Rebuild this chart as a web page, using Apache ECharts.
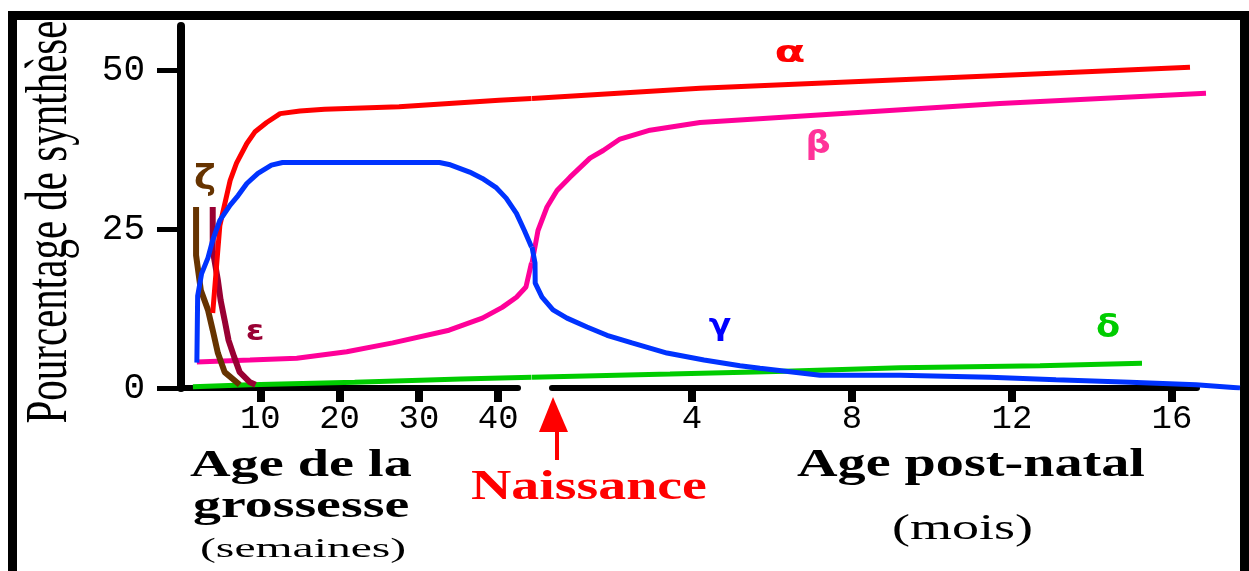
<!DOCTYPE html>
<html>
<head>
<meta charset="utf-8">
<script src="https://cdn.jsdelivr.net/npm/echarts@6/dist/echarts.min.js"></script>
<style>
html, body { margin: 0; padding: 0; background: #fff; }
#chart { width: 1249px; height: 571px; }
</style>
</head>
<body>
<div id="chart"></div>
<script>
// tick labels
const weekTicks = [10, 20, 30, 40];
const monthTicks = [4, 8, 12, 16];
const percentTicks = [0, 25, 50];

// before birth: [semaines, %]   after birth: [mois, %]
const alphaPrenatal = [[4.0, 11.8], [4.9, 25.6], [6.2, 32.7], [7.0, 35.4], [8.3, 38.5], [9.3, 40.3], [10.8, 41.8], [12.5, 43.2], [15, 43.6], [18.1, 43.9], [27.5, 44.3], [40.1, 45.3], [44.2, 45.6]];
const alphaPostnatal = [[0, 45.6], [4.2, 47.2], [11.7, 49.2], [16.45, 50.5]];

const betaPrenatal = [[2.0, 4.1], [8.7, 4.4], [14.6, 4.7], [20.9, 5.7], [26.7, 7.1], [33.8, 9.1], [38, 11.0], [40.5, 12.7], [42.3, 14.3], [43.5, 15.9], [44.2, 19.7]];
const betaPostnatal = [[0, 19.7], [0.15, 24.8], [0.375, 28.5], [0.625, 31.1], [0.95, 33.2], [1.45, 36.2], [1.78, 37.4], [2.2, 39.2], [2.95, 40.6], [4.2, 41.8], [11.7, 44.8], [16.85, 46.4]];

const gammaPrenatal = [[2.0, 4.0], [2.1, 14.5], [2.6, 18.0], [3.4, 20.5], [4.0, 23.3], [4.9, 26.4], [6.2, 28.8], [7.2, 30.3], [8.3, 32.2], [9.7, 33.8], [11.4, 35.1], [12.8, 35.5], [32.6, 35.5], [33.8, 35.2], [36.4, 34.0], [38, 33.0], [39.7, 31.6], [41, 29.9], [42.3, 27.5], [43.3, 24.8], [44.2, 22.2]];
const gammaPostnatal = [[0, 22.2], [0.075, 19.7], [0.08, 16.5], [0.25, 14.3], [0.525, 12.3], [0.875, 11.0], [1.375, 9.6], [1.875, 8.3], [2.5, 7.1], [3.375, 5.5], [4.3, 4.4], [5.2, 3.5], [5.7, 3.1], [7.2, 2.0], [9.2, 2.0], [11.45, 1.7], [13.1, 1.3], [14.95, 0.9], [16.6, 0.5], [17.7, 0.0]];

const deltaPrenatal = [[1.5, 0.2], [8.7, 0.5], [21.9, 0.9], [35.3, 1.4], [44.2, 1.7]];
const deltaPostnatal = [[0, 1.7], [3.45, 2.2], [6.1, 2.6], [9.2, 3.2], [12.7, 3.5], [15.25, 3.9]];

const epsilonPrenatal = [[4.0, 28.5], [4.0, 21.7], [4.65, 17.0], [5.0, 13.8], [5.5, 10.7], [6.0, 7.5], [6.7, 4.9], [7.4, 2.5], [8.7, 0.9], [9.4, 0.5]];
const zetaPrenatal = [[1.9, 28.5], [1.9, 20.9], [2.5, 15.4], [3.4, 12.3], [4.0, 9.1], [4.65, 5.5], [5.5, 2.5], [7.4, 0.5]];

const serif = '"Liberation Serif"';

// xAxis 2 = weeks, xAxis 3 = months, both on the full-width plotting grid
function line(data, color, width, xIdx, z) {
  return {
    type: 'line',
    data: data,
    xAxisIndex: xIdx,
    yAxisIndex: 2,
    symbol: 'none',
    silent: true,
    z: z,
    lineStyle: { color: color, width: width },
    itemStyle: { color: color }
  };
}

function label(text, x, y, font, color, scaleX, align) {
  return {
    type: 'text', x: x, y: y, scaleX: scaleX || 1, silent: true,
    style: {
      text: text, font: font, fill: color,
      align: align || 'center', verticalAlign: 'middle',
      textAlign: align || 'center', textVerticalAlign: 'middle'
    }
  };
}

const chart = echarts.init(document.getElementById('chart'));

const tickFont = { fontFamily: 'Liberation Mono', fontSize: 34, color: '#000', margin: 14 };

const option = {
  animation: false,
  backgroundColor: '#fff',
  grid: [
    { left: 181, top: 26, width: 337, height: 362, outerBoundsMode: 'none' },
    { left: 552, top: 26, width: 645, height: 362, outerBoundsMode: 'none' },
    { left: 181, top: 26, width: 1059, height: 362, outerBoundsMode: 'none' }
  ],
  xAxis: [
    {
      gridIndex: 0, type: 'value', min: 0, max: 42.5,
      axisLine: { onZero: false, lineStyle: { color: '#000', width: 6 } },
      axisTick: { customValues: weekTicks, length: 14, lineStyle: { color: '#000', width: 8 } },
      axisLabel: Object.assign({ customValues: weekTicks }, tickFont),
      splitLine: { show: false }
    },
    {
      gridIndex: 1, type: 'value', min: 0.5, max: 16.625,
      axisLine: { onZero: false, lineStyle: { color: '#000', width: 6 } },
      axisTick: { customValues: monthTicks, length: 14, lineStyle: { color: '#000', width: 8 } },
      axisLabel: Object.assign({ customValues: monthTicks }, tickFont),
      splitLine: { show: false }
    },
    { gridIndex: 2, type: 'value', min: 0, max: 1059 / 7.93, show: false },
    { gridIndex: 2, type: 'value', min: (181 - 532) / 40, max: (1240 - 532) / 40, show: false }
  ],
  yAxis: [
    {
      gridIndex: 0, type: 'value', min: 0, max: 57,
      axisLine: { show: true, onZero: false, lineStyle: { color: '#000', width: 8 } },
      axisTick: { show: true, customValues: percentTicks, length: 24, lineStyle: { color: '#000', width: 5 } },
      axisLabel: { customValues: percentTicks, fontFamily: 'Liberation Mono', fontSize: 36, color: '#000', margin: 36 },
      splitLine: { show: false }
    },
    { gridIndex: 1, type: 'value', min: 0, max: 57, show: false },
    { gridIndex: 2, type: 'value', min: 0, max: 57, show: false }
  ],
  series: [
    line(deltaPrenatal, '#00cc00', 5, 2, 2),
    line(deltaPostnatal, '#00cc00', 5, 3, 2),
    line(betaPrenatal, '#ff0099', 5, 2, 3),
    line(betaPostnatal, '#ff0099', 5, 3, 3),
    line(epsilonPrenatal, '#990033', 6, 2, 4),
    line(zetaPrenatal, '#663300', 6, 2, 4),
    line(alphaPrenatal, '#ff0000', 5, 2, 5),
    line(alphaPostnatal, '#ff0000', 5, 3, 5),
    line(gammaPrenatal, '#0033ff', 5, 2, 6),
    line(gammaPostnatal, '#0033ff', 5, 3, 6)
  ],
  graphic: [
    // frame
    { type: 'rect', silent: true, shape: { x: 12.5, y: 15.5, width: 1232, height: 620 },
      style: { fill: 'none', stroke: '#000', lineWidth: 9 } },
    // y axis title
    { type: 'text', x: 50, y: 222, rotation: Math.PI / 2, scaleY: 1.45, silent: true,
      style: { text: 'Pourcentage de synthèse', font: '41px ' + serif, fill: '#000',
        align: 'center', verticalAlign: 'middle', textAlign: 'center', textVerticalAlign: 'middle' } },
    // curve names
    label('α', 790, 54, 'bold 30px "DejaVu Sans"', '#ff0000', 1.5),
    label('β', 818, 145, 'bold 32px "DejaVu Sans"', '#ff3399', 1.1),
    label('γ', 720, 327, 'bold 30px "DejaVu Sans"', '#0000ff', 1.1),
    label('δ', 1108, 329, 'bold 32px "DejaVu Sans"', '#00cc00', 1.1),
    label('ε', 255, 333, 'bold 28px "DejaVu Sans"', '#990033', 1.2),
    label('ζ', 205, 180, 'bold 34px "DejaVu Sans"', '#663300', 1.1),
    // axis titles
    label('Age de la', 190, 466, 'bold 38px ' + serif, '#000', 1.48, 'left'),
    label('grossesse', 193, 507, 'bold 38px ' + serif, '#000', 1.47, 'left'),
    label('(semaines)', 200, 550, '28px ' + serif, '#000', 1.7, 'left'),
    label('Naissance', 471, 488, 'bold 42px ' + serif, '#ff0000', 1.33, 'left'),
    label('Age post-natal', 797, 466, 'bold 39px ' + serif, '#000', 1.44, 'left'),
    label('(mois)', 892, 530, '36px ' + serif, '#000', 1.5, 'left'),
    // birth arrow
    { type: 'polygon', silent: true, shape: { points: [[553, 397], [539, 432], [568, 432]] },
      style: { fill: '#ff0000' } },
    { type: 'rect', silent: true, shape: { x: 555, y: 430, width: 4, height: 30 },
      style: { fill: '#ff0000' } }
  ]
};

chart.setOption(option);
</script>
</body>
</html>
